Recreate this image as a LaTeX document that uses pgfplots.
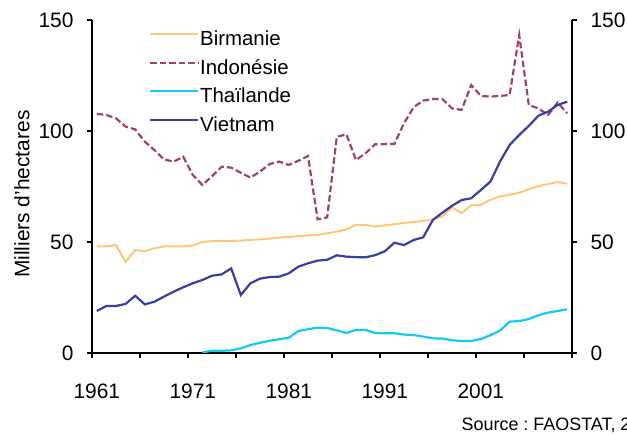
\documentclass[border=0pt]{standalone}
\usepackage{pgfplots}
\pgfplotsset{compat=1.18}
\usepackage{fontspec}
\setmainfont{Liberation Sans}
\frenchspacing
\definecolor{birm}{HTML}{FBC979}
\definecolor{indo}{HTML}{A3416E}
\definecolor{thai}{HTML}{16C9F3}
\definecolor{viet}{HTML}{3A3EA0}

\pgfplotstableread{
year birm indo viet
1961 48.0 107.7 18.9
1962 48.0 107.2 21.2
1963 48.6 105.7 21.2
1964 41.0 102.0 22.1
1965 46.4 100.7 25.8
1966 45.8 95.2 21.9
1967 47.2 91.4 23.1
1968 48.0 87.2 25.4
1969 48.0 86.2 27.6
1970 48.0 88.4 29.6
1971 48.4 80.2 31.4
1972 50.0 75.7 32.9
1973 50.4 79.6 34.8
1974 50.5 83.9 35.4
1975 50.5 83.5 38.1
1976 50.6 81.2 26.1
1977 51.0 79.0 31.4
1978 51.2 81.7 33.5
1979 51.5 85.1 34.2
1980 52.0 86.2 34.4
1981 52.3 84.7 35.9
1982 52.6 86.6 38.9
1983 53.0 88.7 40.4
1984 53.2 60.2 41.6
1985 53.9 61.1 42.0
1986 54.7 97.4 44.0
1987 55.7 98.5 43.4
1988 57.7 86.9 43.2
1989 57.7 90.0 43.1
1990 56.9 94.0 44.1
1991 57.5 94.1 45.8
1992 58.0 94.1 49.7
1993 58.6 103.5 48.6
1994 59.0 110.7 50.9
1995 59.5 113.7 52.1
1996 60.2 114.4 59.9
1997 61.5 114.4 63.2
1998 65.6 110.2 66.3
1999 63.0 109.5 68.9
2000 66.5 120.7 69.7
2001 66.7 115.8 73.4
2002 69.0 115.5 77.2
2003 70.5 115.8 86.2
2004 71.3 116.2 93.7
2005 72.2 143.2 98.2
2006 73.7 111.7 102.3
2007 75.2 110.2 106.9
2008 76.1 107.2 108.7
2009 77.0 112.8 111.7
2010 76.3 108.0 113.2
}\maindata

\pgfplotstableread{
year thai
1972 0.3
1973 1.0
1974 1.0
1975 1.2
1976 2.1
1977 3.6
1978 4.6
1979 5.5
1980 6.2
1981 6.9
1982 9.9
1983 10.7
1984 11.4
1985 11.3
1986 10.2
1987 9.0
1988 10.4
1989 10.4
1990 9.0
1991 8.9
1992 8.9
1993 8.3
1994 8.1
1995 7.4
1996 6.6
1997 6.5
1998 5.7
1999 5.4
2000 5.4
2001 6.3
2002 8.0
2003 10.1
2004 14.1
2005 14.4
2006 15.3
2007 17.0
2008 18.2
2009 18.9
2010 19.7
}\thaidata

\begin{document}
\begin{tikzpicture}
\path[use as bounding box] (0,0) rectangle (627bp,434bp);
\begin{axis}[
  at={(92bp,81bp)}, anchor=south west,
  scale only axis, width=480bp, height=333bp,
  xmin=1960.5, xmax=2010.5, ymin=0, ymax=150,
  axis x line*=bottom, axis y line*=left,
  axis line style={line width=1.2bp, -},
  tick align=outside,
  major tick length=5bp,
  tick style={line width=1.2bp, black},
  xtick={1960.5,1965.5,1970.5,1975.5,1980.5,1985.5,1990.5,1995.5,2000.5,2005.5,2010.5},
  xticklabels={},
  extra x ticks={1961,1971,1981,1991,2001},
  extra x tick labels={1961,1971,1981,1991,2001},
  extra x tick style={major tick length=0pt},
  ytick={0,50,100,150},
  /pgf/number format/assume math mode=true,
  tick label style={font=\fontsize{21}{25}\selectfont},
  yticklabel style={xshift=-10bp},
  xticklabel style={yshift=-27bp},
  ylabel={Milliers d'hectares},
  every axis y label/.style={at={(axis description cs:-0.146,0.477)}, rotate=90, anchor=center, font=\fontsize{21}{25}\selectfont},
  legend cell align=left,
  legend style={draw=none, fill=none, at={(0.112,0.977)}, anchor=north west,
    font=\fontsize{20.5}{24}\selectfont, row sep=7.5bp,
    nodes={inner sep=1bp, text height=15bp, text depth=4bp}},
  legend image code/.code={\draw[#1] (0bp,6bp) -- (48bp,6bp);},
]
\addplot[birm, line width=2bp] table[x=year, y=birm] {\maindata};
\addlegendentry{Birmanie}
\addplot[indo, line width=2.2bp, dash pattern=on 6.5bp off 3bp] table[x=year, y=indo] {\maindata};
\addlegendentry{Indonésie}
\addplot[thai, line width=2.2bp] table[x=year, y=thai] {\thaidata};
\addlegendentry{Thaïlande}
\addplot[viet, line width=2.2bp] table[x=year, y=viet] {\maindata};
\addlegendentry{Vietnam}
\end{axis}
\begin{axis}[
  at={(92bp,81bp)}, anchor=south west,
  scale only axis, width=480bp, height=333bp,
  xmin=1960.5, xmax=2010.5, ymin=0, ymax=150,
  hide x axis,
  axis y line*=right,
  axis line style={line width=1.2bp, -},
  tick align=outside,
  major tick length=5bp,
  tick style={line width=1.2bp, black},
  ytick={0,50,100,150},
  /pgf/number format/assume math mode=true,
  tick label style={font=\fontsize{21}{25}\selectfont},
  yticklabel style={xshift=10bp},
]
\end{axis}
\node[anchor=west, inner sep=0pt, font=\fontsize{18}{21}\selectfont] at (461.5bp,9bp) {Source : FAOSTAT, 2010};
\end{tikzpicture}
\end{document}
